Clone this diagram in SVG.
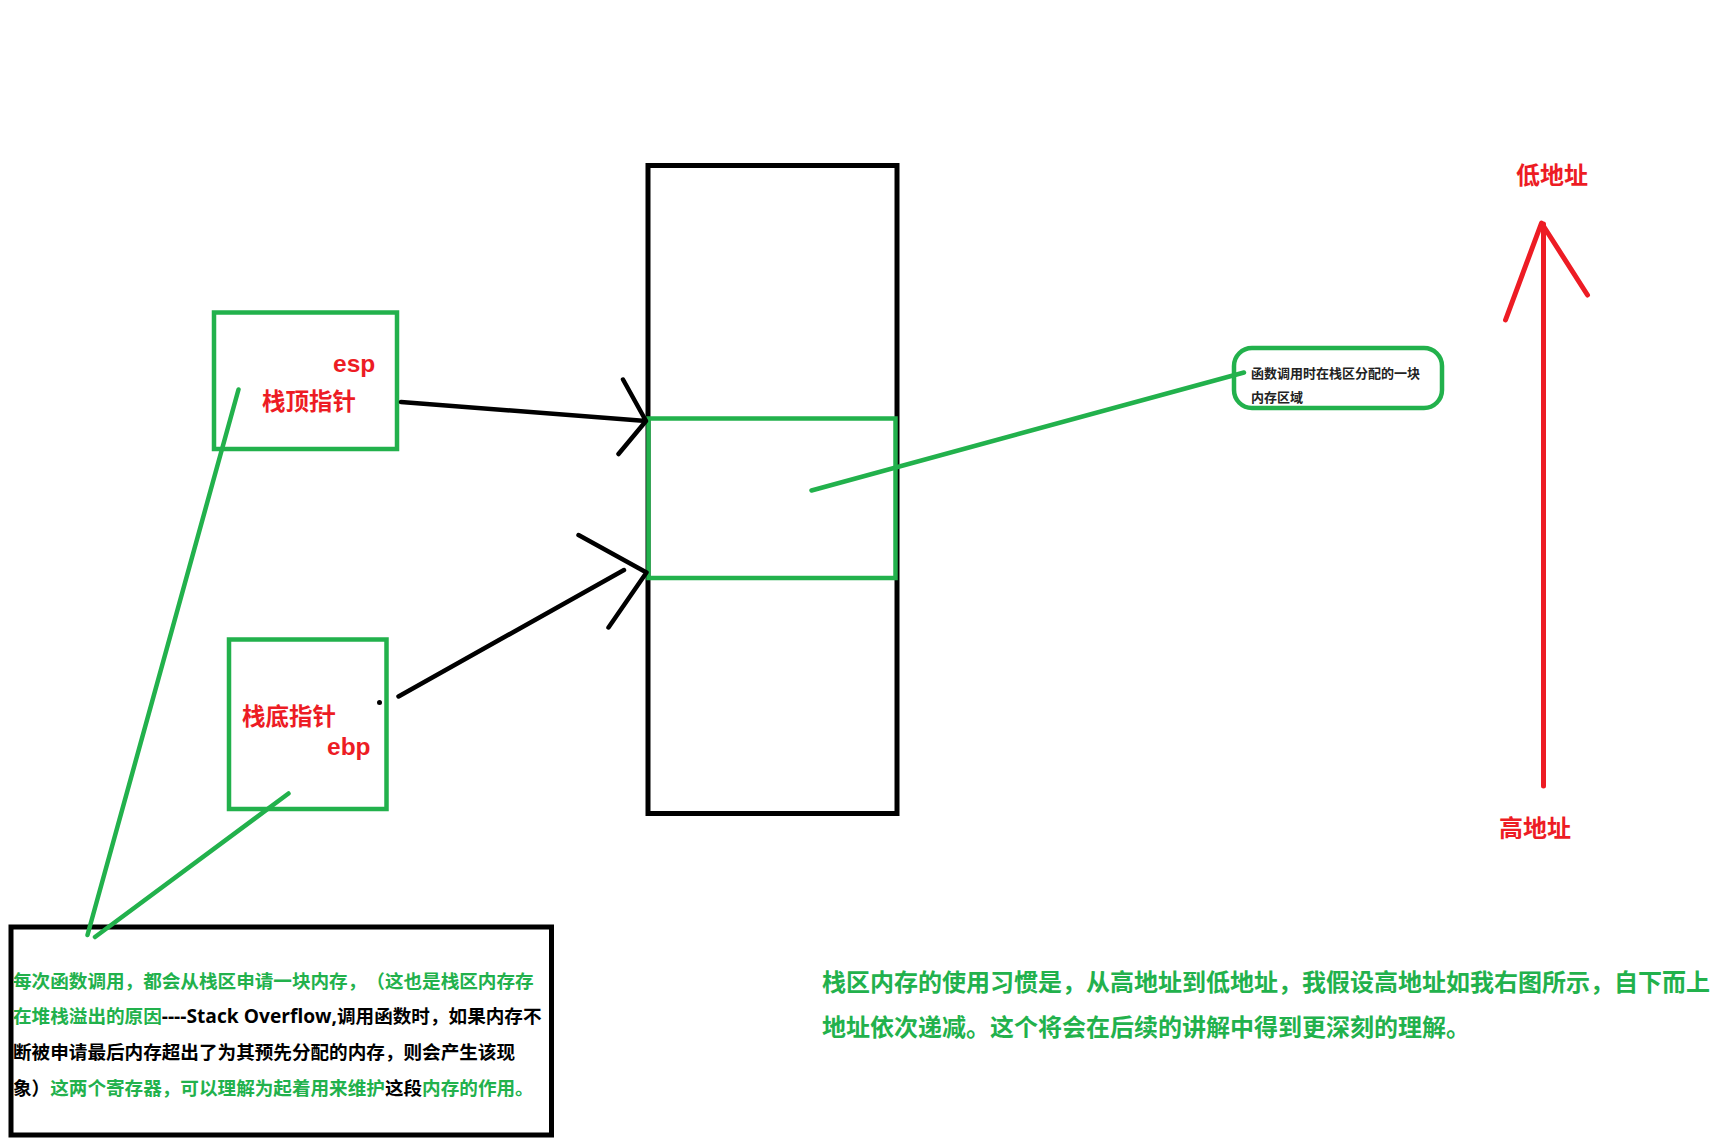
<svg xmlns="http://www.w3.org/2000/svg" width="1713" height="1139" viewBox="0 0 1713 1139">
<style>
.blk{fill:none;stroke:#000;stroke-width:5}
.grn{fill:none;stroke:#22B14C;stroke-width:4.5}
.gl{fill:none;stroke:#22B14C;stroke-width:4.5;stroke-linecap:round}
.bl{fill:none;stroke:#000;stroke-width:4.5;stroke-linecap:round;stroke-linejoin:round}
.rl{fill:none;stroke:#ED1C24;stroke-width:5;stroke-linecap:round;stroke-linejoin:round}
.t{font-family:"Liberation Sans","Noto Sans CJK SC",sans-serif;font-weight:bold;text-spacing-trim:space-all}
.red{fill:#ED1C24}
.g{fill:#22B14C}
.k{fill:#000}
.lat{font-family:"Open Sans","Noto Sans CJK SC",sans-serif;font-size:19.2px}
</style>
<rect width="1713" height="1139" fill="#fff"/>
<g id="stack">
<rect class="blk" x="648" y="165.5" width="249" height="648"/>
</g>
<g id="frame">
<rect class="grn" x="648.5" y="418.5" width="247" height="159.5"/>
</g>
<g id="esp-box">
<rect class="grn" x="214" y="312.5" width="183" height="136.5"/>
<text class="t red" x="333" y="372" font-size="24.5">esp</text>
<text class="t red" x="262" y="409.5" font-size="23.5">栈顶指针</text>
</g>
<g id="ebp-box">
<rect class="grn" x="229" y="639.5" width="157.5" height="169.5"/>
<text class="t red" x="242" y="725" font-size="23.5">栈底指针</text>
<text class="t red" x="327" y="755" font-size="24.5">ebp</text>
<circle cx="379.5" cy="702.5" r="2.5" fill="#000"/>
</g>
<g id="callout">
<rect class="grn" x="1234" y="348" width="208" height="60" rx="18" ry="18"/>
<text class="t" x="1251" y="377.5" font-size="13" fill="#222">函数调用时在栈区分配的一块</text>
<text class="t" x="1251" y="402" font-size="13" fill="#222">内存区域</text>
</g>
<g id="note-box">
<rect class="blk" x="11" y="927" width="540.5" height="208"/>
<text class="t" font-size="18.6" x="13" y="988"><tspan class="g">每次函数调用，都会从栈区申请一块内存，（这也是栈区内存存</tspan></text>
<text class="t" font-size="18.6" x="13" y="1023"><tspan class="g">在堆栈溢出的原因</tspan><tspan class="k lat">----Stack Overflow,</tspan><tspan class="k">调用函数时，如果内存不</tspan></text>
<text class="t k" font-size="18.6" x="13" y="1059">断被申请最后内存超出了为其预先分配的内存，则会产生该现</text>
<text class="t" font-size="18.6" x="13" y="1095"><tspan class="k">象）</tspan><tspan class="g">这两个寄存器，可以理解为起着用来维护</tspan><tspan class="k">这段</tspan><tspan class="g">内存的作用。</tspan></text>
</g>
<g id="note-right">
<text class="t g" font-size="24" x="822" y="991">栈区内存的使用习惯是，从高地址到低地址，我假设高地址如我右图所示，自下而上</text>
<text class="t g" font-size="24" x="822" y="1036">地址依次递减。这个将会在后续的讲解中得到更深刻的理解。</text>
</g>
<g id="address-axis">
<text class="t red" font-size="24" x="1516" y="184">低地址</text>
<text class="t red" font-size="24" x="1499" y="837">高地址</text>
</g>
<g id="connectors">
<path class="bl" d="M401 402 L646 421 M623 379.5 L646 421 L618.5 454"/>
<path class="bl" d="M398.5 696.5 L624 570 M578.5 535 L646.5 572.5 L608.5 627.5"/>
<path class="gl" d="M811.5 490.5 L1244 372.5"/>
<path class="gl" d="M238.5 389.5 L87.5 935"/>
<path class="gl" d="M288.5 793.5 L95 937"/>
<path class="rl" d="M1543.5 786 L1543.5 224 M1505.5 320 L1541.5 223 L1587.5 295"/>
</g>
</svg>
